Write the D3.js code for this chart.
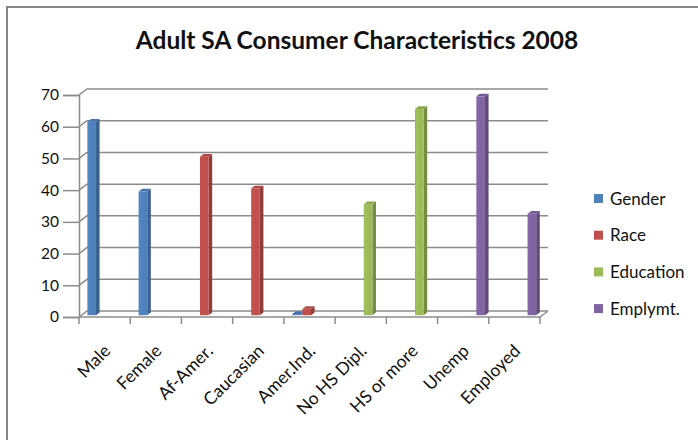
<!DOCTYPE html>
<html>
<head>
<meta charset="utf-8">
<script src="https://cdn.jsdelivr.net/npm/d3@7"></script>
<style>
  html, body { margin: 0; padding: 0; background: #fff; }
  svg { display: block; }
  text { font-family: Lato, "Open Sans", "Liberation Sans", sans-serif; fill: #111; }
</style>
</head>
<body>
<svg id="chart" width="698" height="440"></svg>
<script>
// Survey categories along the floor of the chart
const categories = ["Male", "Female", "Af-Amer.", "Caucasian", "Amer.Ind.", "No HS Dipl.", "HS or more", "Unemp", "Employed"];
const seriesNames = ["Gender", "Race", "Education", "Emplymt."];

// Percentages per series (null = no column in that category)
const gender     = [61, 39, null, null, 0.4, null, null, null, null];
const race       = [null, null, 50, 40, 2, null, null, null, null];
const education  = [null, null, null, null, null, 35, 65, null, null];
const employment = [null, null, null, null, null, null, null, 69, 32];

const yTicks = [0, 10, 20, 30, 40, 50, 60, 70];
const colors = ["#4F81BD", "#C0504D", "#9BBB59", "#8064A2"];

const seriesValues = [gender, race, education, employment];

const svg = d3.select("#chart");

// Outer chart frame (only top and left edges fall inside the view)
svg.append("path")
  .attr("d", "M7,440 L7,7 L698,7")
  .attr("fill", "none").attr("stroke", "#878787").attr("stroke-width", 2);

// Title
svg.append("text")
  .attr("x", 357).attr("y", 49)
  .attr("text-anchor", "middle")
  .attr("font-size", 24.5).attr("font-weight", "bold")
  .text("Adult SA Consumer Characteristics 2008");

// Scales (front plane) plus an oblique depth offset for the 3D look
const x = d3.scaleBand().domain(categories).range([79, 540]).paddingInner(0).paddingOuter(0);
const x1 = d3.scaleBand().domain(seriesNames).range([6, 45]).paddingInner(0.15);
const y = d3.scaleLinear().domain([0, 70]).range([317, 95]);
const D = { x: 8, y: -6 };
const P = (px, py, t) => [px + t * D.x, py + t * D.y];

const gridColor = "#8c8c8c";
const g = svg.append("g");

// Side wall + back wall gridlines
yTicks.forEach(v => {
  const yy = y(v);
  const pts = [P(x.range()[0], yy, 0), P(x.range()[0], yy, 1), P(x.range()[1], yy, 1)];
  g.append("polyline")
    .attr("points", pts.map(p => p.join(",")).join(" "))
    .attr("fill", "none").attr("stroke", gridColor).attr("stroke-width", 1.5);
});

// Floor front edge and right edge
const f0 = P(x.range()[0], y(0), 0), f1 = P(x.range()[1], y(0), 0), f2 = P(x.range()[1], y(0), 1);
g.append("polyline")
  .attr("points", [f0, f1, f2].map(p => p.join(",")).join(" "))
  .attr("fill", "none").attr("stroke", gridColor).attr("stroke-width", 1.5);

// Vertical value axis with tick marks
const yAxis = d3.axisLeft(y).tickValues(yTicks).tickSize(16).tickPadding(4).tickFormat(d3.format("d"));
const ya = svg.append("g").attr("transform", `translate(${x.range()[0]},0)`).call(yAxis);
ya.select(".domain").attr("stroke", gridColor).attr("stroke-width", 1.5);
ya.selectAll(".tick line").attr("stroke", gridColor).attr("stroke-width", 1.5);
ya.selectAll(".tick text").attr("font-size", 15.5).attr("fill", "#111")
  .style("font-family", "Lato, 'Open Sans', sans-serif");

// Category tick marks at band boundaries
const bounds = categories.map(c => x(c)).concat([x.range()[1]]);
svg.append("g").selectAll("line").data(bounds).join("line")
  .attr("x1", d => d).attr("x2", d => d)
  .attr("y1", y(0)).attr("y2", y(0) + 7)
  .attr("stroke", gridColor).attr("stroke-width", 1.5);

// Rotated category labels
svg.append("g").selectAll("text").data(categories).join("text")
  .attr("transform", d => `translate(${x(d) + x.bandwidth() / 2 + 7},${y(0) + 35}) rotate(-45)`)
  .attr("text-anchor", "end")
  .attr("font-size", 17.5)
  .text(d => d);

// 3D columns
const t0 = 0.3, t1 = 0.75;
const barsG = svg.append("g");
seriesNames.forEach((s, si) => {
  const base = d3.color(colors[si]);
  const dark = base.darker(0.8);
  const light = base.brighter(0.25);
  const vals = seriesValues[si];
  categories.forEach((c, ci) => {
    const v = vals[ci];
    if (v == null) return;
    const bx = x(c) + x1(s);
    const w = x1.bandwidth();
    const yv = y(v), y0 = y(0);
    const fTL = P(bx, yv, t0), fTR = P(bx + w, yv, t0), fBR = P(bx + w, y0, t0);
    const bTL = P(bx, yv, t1), bTR = P(bx + w, yv, t1), bBR = P(bx + w, y0, t1);
    // side face
    barsG.append("polygon")
      .attr("points", [fTR, bTR, bBR, fBR].map(p => p.join(",")).join(" "))
      .attr("fill", dark.formatHex());
    // top face
    barsG.append("polygon")
      .attr("points", [fTL, fTR, bTR, bTL].map(p => p.join(",")).join(" "))
      .attr("fill", base.darker(0.3).formatHex());
    // front face
    barsG.append("rect")
      .attr("x", fTL[0]).attr("y", fTL[1])
      .attr("width", w).attr("height", Math.max(0, fBR[1] - fTL[1]))
      .attr("fill", base.formatHex());
    barsG.append("rect")
      .attr("x", fTL[0] + 1).attr("y", fTL[1])
      .attr("width", 2).attr("height", Math.max(0, fBR[1] - fTL[1]))
      .attr("fill", light.formatHex()).attr("opacity", 0.35);
  });
});

// Legend
const legend = svg.append("g");
seriesNames.forEach((s, i) => {
  const cy = 198.5 + i * 36.7;
  legend.append("rect")
    .attr("x", 594).attr("y", cy - 4.5).attr("width", 9).attr("height", 9)
    .attr("fill", colors[i]);
  legend.append("text")
    .attr("x", 610).attr("y", cy + 6)
    .attr("font-size", 17)
    .text(s);
});
</script>
</body>
</html>
